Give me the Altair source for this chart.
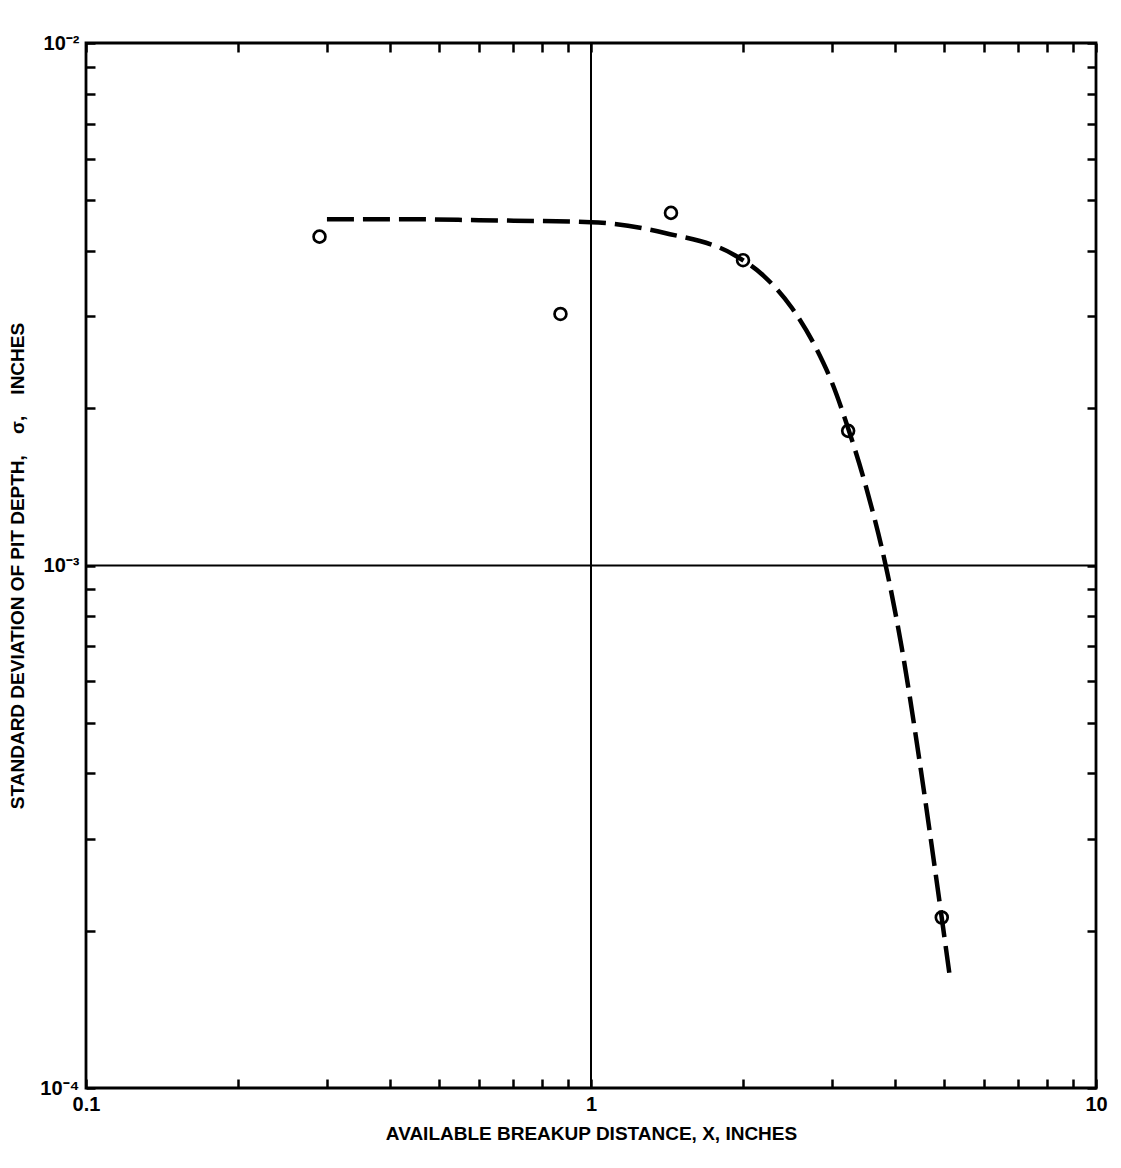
import math
import altair as alt
import pandas as pd

# ---- data ----
x_points = [0.29, 0.87, 1.44, 2.0, 3.23, 4.95]
y_points = [0.00426, 0.00303, 0.00473, 0.00384, 0.00181, 0.000212]

curve_x = [0.30, 0.44, 0.60, 1.0, 1.40, 1.93, 2.2, 2.5, 2.8, 3.0, 3.23, 3.5, 3.86, 4.12, 4.48, 4.8, 5.15]
curve_y = [0.00460, 0.00460, 0.00458, 0.00454, 0.00433, 0.00392, 0.00358, 0.00311, 0.00259,
           0.00224, 0.00183, 0.00142, 0.00097, 0.000700, 0.000418, 0.000262, 0.000160]

grid_x = [1.0]
grid_y = [0.001]

x_major = [0.1, 1, 10]
x_major_labels = ["0.1", "1", "10"]
y_major = [1e-4, 1e-3, 1e-2]
y_major_labels = ["10\u207b\u2074", "10\u207b\u00b3", "10\u207b\u00b2"]

x_tick_values = [m * 10.0 ** e for e in (-1, 0) for m in range(1, 10)] + [10.0]
y_tick_values = [m * 10.0 ** e for e in (-4, -3) for m in range(1, 10)] + [1e-2]

NB = "\u00a0"
x_title = "AVAILABLE BREAKUP DISTANCE, X, INCHES"
y_title = f"STANDARD DEVIATION OF PIT DEPTH,{NB*4}\u03c3,{NB*4}INCHES"


def label_expr(majors, labels):
    expr = "''"
    for v, l in reversed(list(zip(majors, labels))):
        expr = f"abs(log(datum.value)/LN10 - ({math.log10(v)})) < 0.001 ? '{l}' : ({expr})"
    return expr


FONT = "Liberation Sans"

xscale = alt.Scale(type="log", domain=[0.1, 10], nice=False)
yscale = alt.Scale(type="log", domain=[1e-4, 1e-2], nice=False)

common = dict(domain=False, grid=False, ticks=True, tickSize=9, tickWidth=2.5,
              tickColor="black", offset=-9, labelFlush=False, labelOverlap=False,
              labelFont=FONT, labelFontSize=20, labelFontWeight="bold", labelColor="black",
              titleFont=FONT, titleFontSize=19, titleFontWeight="bold", titleColor="black")

bottom_axis = alt.Axis(orient="bottom", values=x_tick_values,
                       labelExpr=label_expr(x_major, x_major_labels),
                       labelPadding=6, titlePadding=10, **common)
left_axis = alt.Axis(orient="left", values=y_tick_values,
                     labelExpr=label_expr(y_major, y_major_labels),
                     labelPadding=7, titlePadding=12, **common)
top_axis = alt.Axis(orient="top", values=x_tick_values, labels=False, **common)
right_axis = alt.Axis(orient="right", values=y_tick_values, labels=False, **common)

df_pts = pd.DataFrame({"x": x_points, "y": y_points})
df_curve = pd.DataFrame({"x": curve_x, "y": curve_y})
df_gx = pd.DataFrame({"x": grid_x})
df_gy = pd.DataFrame({"y": grid_y})

grid_v = alt.Chart(df_gx).mark_rule(color="black", strokeWidth=2).encode(
    x=alt.X("x:Q", scale=xscale, axis=None))
grid_h = alt.Chart(df_gy).mark_rule(color="black", strokeWidth=2).encode(
    y=alt.Y("y:Q", scale=yscale, axis=None))

curve = alt.Chart(df_curve).mark_line(
    color="black", strokeWidth=4.5, strokeDash=[27, 9], interpolate="monotone"
).encode(
    x=alt.X("x:Q", scale=xscale, axis=top_axis, title=None),
    y=alt.Y("y:Q", scale=yscale, axis=right_axis, title=None),
)

points = alt.Chart(df_pts).mark_point(
    shape="circle", filled=False, size=140, strokeWidth=2.7, color="black", opacity=1
).encode(
    x=alt.X("x:Q", scale=xscale, axis=bottom_axis, title=x_title),
    y=alt.Y("y:Q", scale=yscale, axis=left_axis, title=y_title),
)

chart = (
    alt.layer(grid_v, grid_h, curve, points)
    .resolve_axis(x="independent", y="independent")
    .properties(width=1010, height=1045,
                padding={"left": 0, "top": 25, "right": 5, "bottom": 5},
                background="white")
    .configure_view(stroke="black", strokeWidth=2.8)
)

chart.save("out.html", embed_options={"renderer": "svg", "actions": False})
